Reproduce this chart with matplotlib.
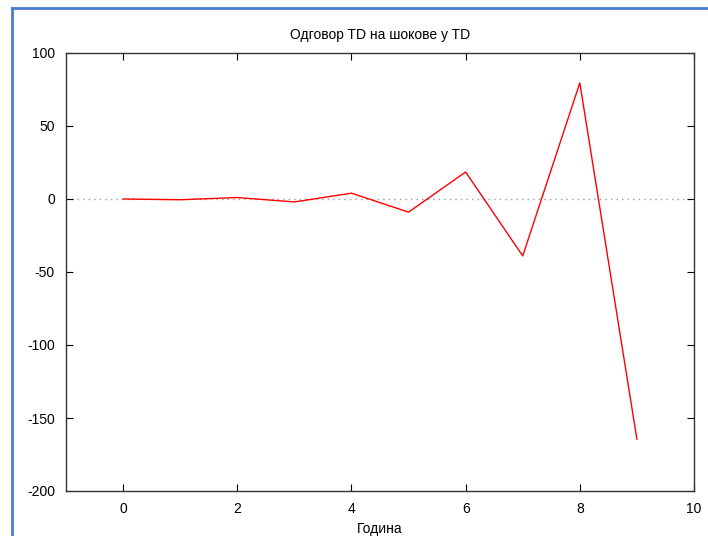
import numpy as np
import matplotlib.pyplot as plt
from matplotlib.lines import Line2D

plt.rcParams['font.family'] = ['Liberation Sans', 'DejaVu Sans']
plt.rcParams['axes.unicode_minus'] = False

# Datos
godina = [0, 1, 2, 3, 4, 5, 6, 7, 8, 9]
odgovor = [0, -0.5, 1, -2, 4, -9, 18.5, -39, 79.5, -164.5]

fig = plt.figure(figsize=(7.08, 5.36), dpi=100)
ax = fig.add_axes([66 / 708, 45 / 536, 628 / 708, 438 / 536])

ax.plot(godina, odgovor, color='red', lw=1)
ax.axhline(0, color='#999999', lw=1, ls=(0, (1, 3)), zorder=0)

ax.set_xlim(-1, 10)
ax.set_ylim(-200, 100)
ax.set_xticks([0, 2, 4, 6, 8, 10])
ax.set_yticks([100, 50, 0, -50, -100, -150, -200])
ax.tick_params(direction='in', top=True, right=True, length=5, width=0.8,
               labelsize=10, pad=8)
for s in ax.spines.values():
    s.set_linewidth(1)
    s.set_color('#333333')

ax.set_title('Одговор TD на шокове у TD', fontsize=10, pad=10)
ax.set_xlabel('Година', fontsize=10, labelpad=4)

# marco azul
fig.add_artist(Line2D([12 / 708, 12 / 708], [0, 1 - 8 / 536],
                      transform=fig.transFigure, color='#4a7bd0', lw=2))
fig.add_artist(Line2D([12 / 708, 1], [1 - 8 / 536, 1 - 8 / 536],
                      transform=fig.transFigure, color='#4a7bd0', lw=2))

fig.savefig('out.png', dpi=100)
